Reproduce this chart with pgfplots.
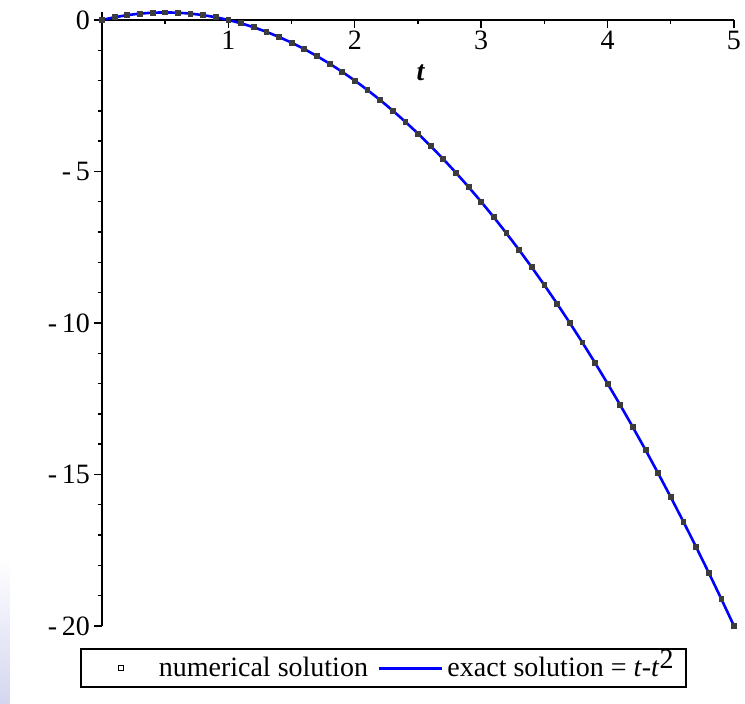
\documentclass[border=0pt]{standalone}
\usepackage{pgfplots}
\pgfplotsset{compat=1.18}
\usepackage{pgfplotstable}
\usepackage{fontspec}
\setmainfont{Liberation Serif}
\definecolor{wm}{RGB}{212,214,240}
\definecolor{markgray}{RGB}{60,60,60}
\pgfplotstableread{
t y
0.0 0
0.1 0.09
0.2 0.16
0.3 0.21
0.4 0.24
0.5 0.25
0.6 0.24
0.7 0.21
0.8 0.16
0.9 0.09
1.0 0
1.1 -0.11
1.2 -0.24
1.3 -0.39
1.4 -0.56
1.5 -0.75
1.6 -0.96
1.7 -1.19
1.8 -1.44
1.9 -1.71
2.0 -2
2.1 -2.31
2.2 -2.64
2.3 -2.99
2.4 -3.36
2.5 -3.75
2.6 -4.16
2.7 -4.59
2.8 -5.04
2.9 -5.51
3.0 -6
3.1 -6.51
3.2 -7.04
3.3 -7.59
3.4 -8.16
3.5 -8.75
3.6 -9.36
3.7 -9.99
3.8 -10.64
3.9 -11.31
4.0 -12
4.1 -12.71
4.2 -13.44
4.3 -14.19
4.4 -14.96
4.5 -15.75
4.6 -16.56
4.7 -17.39
4.8 -18.24
4.9 -19.11
5.0 -20
}\sol
\begin{document}
\begin{tikzpicture}[x=1pt,y=1pt]
\useasboundingbox (-51,-39) rectangle (321.5,313);
\shade[top color=white, bottom color=wm] (-51,-39) rectangle (-46,34.5);
\begin{axis}[
  at={(0,0)}, anchor=south west,
  scale only axis, width=316pt, height=306.8pt,
  xmin=0, xmax=5, ymin=-20, ymax=0.25,
  axis lines=middle,
  axis line style={-, line width=0.8pt, black},
  tick align=outside,
  major tick length=4pt, minor tick length=2pt,
  tick style={black, line width=0.7pt},
  xtick={1,2,3,4,5},
  xticklabels={\textrm{1},\textrm{2},\textrm{3},\textrm{4},\textrm{5}},
  minor xtick={0.5,1.5,2.5,3.5,4.5},
  ytick={-20,-15,-10,-5,0},
  yticklabels={\textrm{-\,20},\textrm{-\,15},\textrm{-\,10},\textrm{-\,5},\textrm{0}},
  minor ytick={-19,-18,...,-1},
  hide obscured x ticks=false, hide obscured y ticks=false,
  ticklabel style={font=\fontsize{14}{16}\selectfont},
  xticklabel style={yshift=2pt},
  yticklabel style={xshift=1.5pt},
  clip=false,
  legend columns=2,
  legend style={at={(rel axis cs:-0.0348,-0.0359)}, anchor=north west,
    draw=black, line width=0.8pt, font=\fontsize{14}{16}\selectfont,
    inner xsep=2pt, inner ysep=2pt,
    /tikz/every even column/.append style={column sep=0pt}},
]
\addlegendimage{legend image code/.code={
  \path[draw=none] (0pt,0pt) -- (35pt,0pt);
  \draw[black, line width=0.5pt, fill=white] (18pt-1.3pt,-1.3pt) rectangle (18pt+1.3pt,1.3pt);}}
\addlegendentry{numerical solution}
\addlegendimage{legend image code/.code={
  \path[draw=none] (0pt,0pt) -- (35pt,0pt);
  \draw[blue, line width=1.5pt] (3.5pt,0pt) -- (35pt,0pt);}}
\addlegendentry{exact solution = \textit{t}-\textit{t}\smash{\raisebox{0.6ex}{2}}\,}
\addplot[blue, line width=1.3pt, forget plot] table[x=t, y=y] {\sol};
\addplot[only marks, mark=square*, mark size=1.2pt, markgray, forget plot] table[x=t, y=y] {\sol};
\node[font=\fontsize{14}{16}\selectfont\bfseries\itshape] at (axis cs:2.52,-1.75) {t};
\end{axis}
\end{tikzpicture}
\end{document}
